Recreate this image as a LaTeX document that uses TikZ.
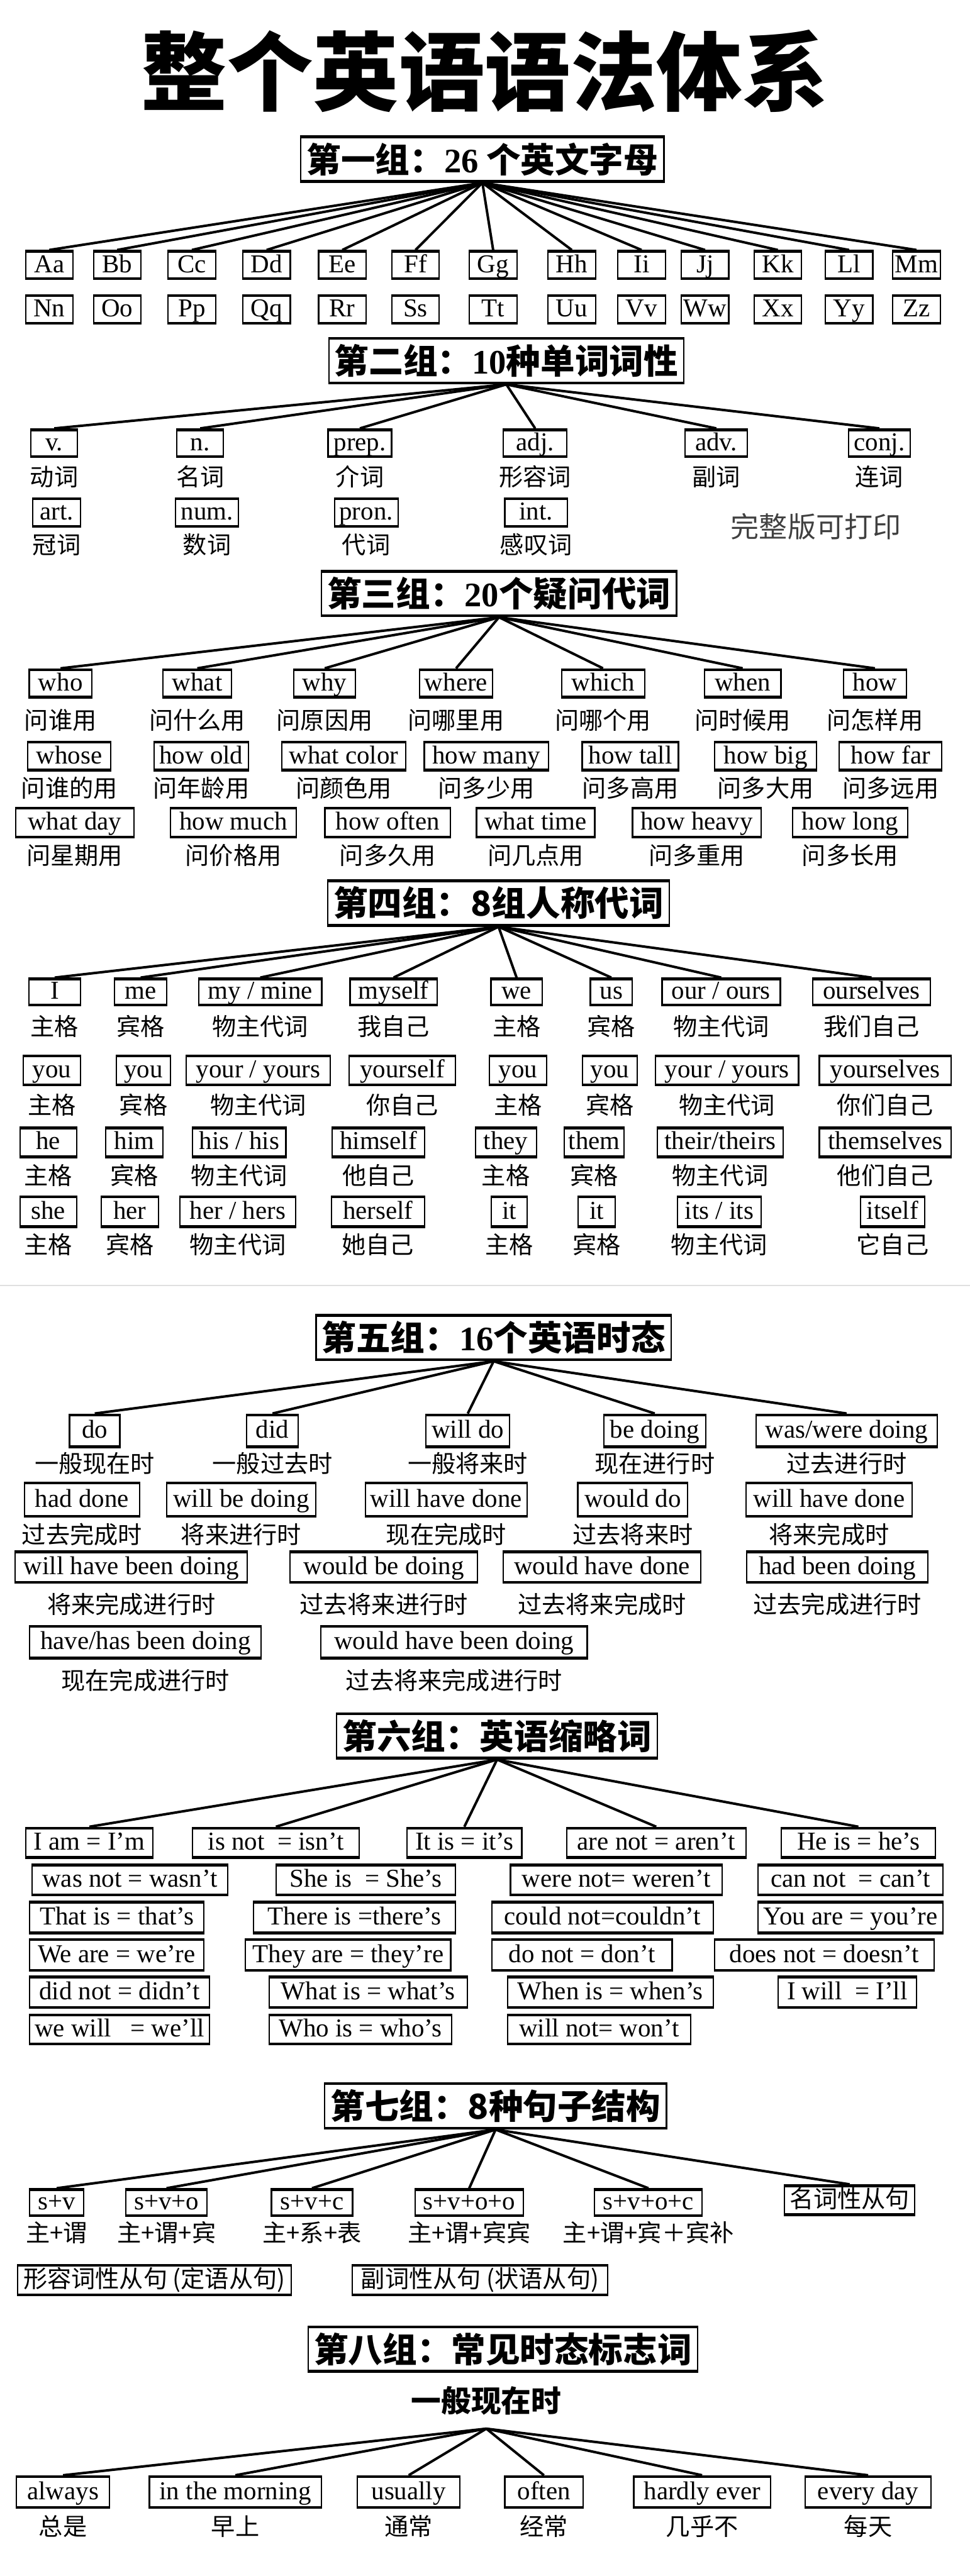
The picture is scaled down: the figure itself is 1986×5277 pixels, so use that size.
\documentclass[tikz,border=0pt]{standalone}
\usepackage{fontspec}
\setmainfont{Liberation Serif}
\newfontfamily\cjk{Noto Sans CJK SC}

\newcommand{\titlefont}{\cjk\bfseries\fontsize{50}{56}\selectfont}
\newcommand{\headfont}{\cjk\bfseries\fontsize{20}{24}\selectfont}
\newcommand{\wordfont}{\rmfamily\fontsize{15}{18}\selectfont}
\newcommand{\cnfont}{\cjk\fontsize{14}{17}\selectfont}

\begin{document}
\begin{tikzpicture}[
  x=0.01cm, y=-0.01cm,
  thickrims/.style={path picture={
    \draw[line width=2.4pt] (path picture bounding box.north west) -- (path picture bounding box.north east)
      (path picture bounding box.south west) -- (path picture bounding box.south east);}},
  headbox/.style={draw, line width=0.8pt, font=\headfont, inner xsep=0.12cm, minimum height=0.94cm, thickrims},
  wordbox/.style={draw, line width=0.8pt, font=\wordfont, inner xsep=0.04cm, inner ysep=0.03cm,
    text height=0.38cm, text depth=0.08cm, minimum height=#1, thickrims},
  wordbox/.default=0.6cm,
  cnlabel/.style={font=\cnfont, inner sep=0pt},
  branch/.style={line width=1.45pt},
]
  \path[use as bounding box, fill=white] (0,0) rectangle (1986,5277);

  \node[font=\titlefont] (title) at (993,146) {整个英语语法体系};

  % group 1: letters
  \node[headbox] (head1) at (988,326) {第一组：{\rmfamily 26} 个英文字母};
  \foreach \px/\txt [count=\i] in {101/Aa,240/Bb,393/Cc,546/Dd,701/Ee,851/Ff,1010/Gg,1171/Hh,1314/Ii,1444/Jj,1593/Kk,1739/Ll,1877/Mm}
    \node[wordbox=0.59cm, minimum width=0.97cm] (alpha-a\i) at (\px,543) {\txt};
  \foreach \px/\txt [count=\i] in {101/Nn,240/Oo,393/Pp,546/Qq,701/Rr,851/Ss,1010/Tt,1171/Uu,1314/Vv,1444/Ww,1593/Xx,1739/Yy,1877/Zz}
    \node[wordbox=0.59cm, minimum width=0.97cm] (alpha-b\i) at (\px,634) {\txt};
  \foreach \i in {1,...,13}
    \draw[branch] (head1.south) -- (alpha-a\i.north);

  % group 2: parts of speech
  \node[headbox] (head2) at (1037,739) {第二组：{\rmfamily 10}种单词词性};
  \foreach \px/\bw/\txt/\lbl [count=\i] in {111/0.95/v./动词, 410/0.95/n./名词, 737/1.30/prep./介词, 1096/1.30/adj./形容词, 1467/1.28/adv./副词, 1801/1.27/conj./连词} {
    \node[wordbox=0.58cm, minimum width=\bw cm] (pos-a\i) at (\px,908) {\txt};
    \node[cnlabel] (pos-a\i-cn) at (\px,977) {\lbl};
  }
  \foreach \px/\bw/\txt/\lbl [count=\i] in {116/0.98/art./冠词, 424/1.29/num./数词, 750/1.30/pron./代词, 1098/1.28/int./感叹词} {
    \node[wordbox=0.59cm, minimum width=\bw cm] (pos-b\i) at (\px,1050) {\txt};
    \node[cnlabel] (pos-b\i-cn) at (\px,1116) {\lbl};
  }
  \node[font=\cjk\fontsize{16.5}{20}\selectfont, text=black!75] (print) at (1671,1079) {完整版可打印};
  \foreach \i in {1,...,6}
    \draw[branch] (head2.south) -- (pos-a\i.north);

  % group 3: question words
  \node[headbox] (head3) at (1022,1216) {第三组：{\rmfamily 20}个疑问代词};
  \foreach \px/\bw/\txt/\lbl [count=\i] in {124/1.28/who/问谁用, 404/1.41/what/问什么用, 665/1.26/why/问原因用, 934/1.49/where/问哪里用, 1235/1.70/which/问哪个用, 1521/1.57/when/问时候用, 1792/1.29/how/问怎样用} {
    \node[wordbox=0.59cm, minimum width=\bw cm] (wh-a\i) at (\px,1400) {\txt};
    \node[cnlabel] (wh-a\i-cn) at (\px,1475) {\lbl};
  }
  \foreach \px/\bw/\txt/\lbl [count=\i] in {142/1.70/whose/问谁的用, 412/1.93/how old/问年龄用, 704/2.54/what color/问颜色用, 996/2.54/how many/问多少用, 1291/1.97/how tall/问多高用, 1568/2.09/how big/问多大用, 1824/2.10/how far/问多远用} {
    \node[wordbox=0.60cm, minimum width=\bw cm] (wh-b\i) at (\px,1549) {\txt};
    \node[cnlabel] (wh-b\i-cn) at (\px,1614) {\lbl};
  }
  \foreach \px/\bw/\txt/\lbl [count=\i] in {153/2.42/what day/问星期用, 478/2.57/how much/问价格用, 794/2.57/how often/问多久用, 1097/2.42/what time/问几点用, 1427/2.63/how heavy/问多重用, 1741/2.36/how long/问多长用} {
    \node[wordbox=0.62cm, minimum width=\bw cm] (wh-c\i) at (\px,1685) {\txt};
    \node[cnlabel] (wh-c\i-cn) at (\px,1752) {\lbl};
  }
  \foreach \i in {1,...,7}
    \draw[branch] (head3.south) -- (wh-a\i.north);

  % group 4: personal pronouns
  \node[headbox] (head4) at (1021,1850) {第四组：8组人称代词};
  \foreach \px/\bw/\txt/\lbl [count=\i] in {112/1.05/I/主格, 288/1.06/me/宾格, 533/2.52/{my / mine}/物主代词, 806/1.78/myself/我自己, 1058/1.05/we/主格, 1252/0.86/us/宾格, 1477/2.42/{our / ours}/物主代词, 1785/2.41/ourselves/我们自己} {
    \node[wordbox=0.56cm, minimum width=\bw cm] (pron-a\i) at (\px,2032) {\txt};
    \node[cnlabel] (pron-a\i-cn) at (\px,2102) {\lbl};
  }
  \foreach \px/\bw/\txt/\lbl [count=\i] in {106/1.17/you/主格, 294/1.11/you/宾格, 529/2.95/{your / yours}/物主代词, 824/2.18/yourself/你自己, 1061/1.18/you/主格, 1249/1.12/you/宾格, 1489/2.93/{your / yours}/物主代词, 1813/2.70/yourselves/你们自己} {
    \node[wordbox=0.62cm, minimum width=\bw cm] (pron-b\i) at (\px,2193) {\txt};
    \node[cnlabel] (pron-b\i-cn) at (\px,2264) {\lbl};
  }
  \foreach \px/\bw/\txt/\lbl [count=\i] in {99/1.16/he/主格, 275/1.18/him/宾格, 490/1.91/{his / his}/物主代词, 775/1.89/himself/他自己, 1036/1.25/they/主格, 1217/1.23/them/宾格, 1475/2.57/{their/theirs}/物主代词, 1813/2.70/themselves/他们自己} {
    \node[wordbox=0.62cm, minimum width=\bw cm] (pron-c\i) at (\px,2340) {\txt};
    \node[cnlabel] (pron-c\i-cn) at (\px,2408) {\lbl};
  }
  \foreach \px/\bw/\txt/\lbl [count=\i] in {99/1.16/she/主格, 266/1.18/her/宾格, 487/2.36/{her / hers}/物主代词, 774/1.91/herself/她自己, 1043/0.74/it/主格, 1222/0.76/it/宾格, 1473/1.71/{its / its}/物主代词, 1828/1.31/itself/它自己} {
    \node[wordbox=0.64cm, minimum width=\bw cm] (pron-d\i) at (\px,2482) {\txt};
    \node[cnlabel] (pron-d\i-cn) at (\px,2550) {\lbl};
  }
  \foreach \i in {1,...,8}
    \draw[branch] (head4.south) -- (pron-a\i.north);
  \draw[black!12, line width=0.6pt] (0,2633) -- (1986,2633);

  % group 5: tenses
  \node[headbox] (head5) at (1011,2740) {第五组：{\rmfamily 16}个英语时态};
  \foreach \px/\bw/\txt/\lbl [count=\i] in {194/1.03/do/一般现在时, 558/1.06/did/一般过去时, 958/1.71/will do/一般将来时, 1341/2.08/be doing/现在进行时, 1734/3.71/{was/were doing}/过去进行时} {
    \node[wordbox=0.68cm, minimum width=\bw cm] (tense-a\i) at (\px,2931) {\txt};
    \node[cnlabel] (tense-a\i-cn) at (\px,2998) {\lbl};
  }
  \foreach \px/\bw/\txt/\lbl [count=\i] in {168/2.35/had done/过去完成时, 494/3.06/will be doing/将来进行时, 914/3.31/will have done/现在完成时, 1296/2.25/would do/过去将来时, 1698/3.40/will have done/将来完成时} {
    \node[wordbox=0.71cm, minimum width=\bw cm] (tense-b\i) at (\px,3072) {\txt};
    \node[cnlabel] (tense-b\i-cn) at (\px,3143) {\lbl};
  }
  \foreach \px/\bw/\txt/\lbl [count=\i] in {269/4.75/will have been doing/将来完成进行时, 786/3.83/would be doing/过去将来进行时, 1233/4.05/would have done/过去将来完成时, 1715/3.71/had been doing/过去完成进行时} {
    \node[wordbox=0.65cm, minimum width=\bw cm] (tense-c\i) at (\px,3210) {\txt};
    \node[cnlabel] (tense-c\i-cn) at (\px,3286) {\lbl};
  }
  \foreach \px/\bw/\txt/\lbl [count=\i] in {298/4.74/{have/has been doing}/现在完成进行时, 930/5.45/would have been doing/过去将来完成进行时} {
    \node[wordbox=0.68cm, minimum width=\bw cm] (tense-d\i) at (\px,3364) {\txt};
    \node[cnlabel] (tense-d\i-cn) at (\px,3442) {\lbl};
  }
  \foreach \i in {1,...,5}
    \draw[branch] (head5.south) -- (tense-a\i.north);

  % group 6: contractions
  \node[headbox] (head6) at (1018,3556) {第六组：英语缩略词};
  \foreach \px/\bw/\txt [count=\i] in {183/2.61/I am = I’m, 565/3.41/is not\ \ = isn't, 951/2.35/It is = it's, 1344/3.67/are not = aren't, 1758/3.15/He is = he's}
    \node[wordbox=0.63cm, minimum width=\bw cm] (short-a\i) at (\px,3775) {\txt};
  \foreach \px/\bw/\txt [count=\i] in {266/4.01/was not = wasn't, 749/3.67/She is\ \ = She's, 1262/4.33/were not= weren't, 1742/3.78/can not\ \ = can't}
    \node[wordbox=0.64cm, minimum width=\bw cm] (short-b\i) at (\px,3851) {\txt};
  \foreach \px/\bw/\txt [count=\i] in {239/3.57/That is = that's, 726/4.14/There is =there's, 1234/4.53/could not=couldn't, 1742/3.78/You are = you're}
    \node[wordbox=0.66cm, minimum width=\bw cm] (short-c\i) at (\px,3928) {\txt};
  \foreach \px/\bw/\txt [count=\i] in {239/3.57/We are = we're, 713/4.20/They are = they're, 1192/3.69/do not = don't, 1688/4.49/does not = doesn't}
    \node[wordbox=0.66cm, minimum width=\bw cm] (short-d\i) at (\px,4005) {\txt};
  \foreach \px/\bw/\txt [count=\i] in {245/3.68/did not = didn't, 754/4.06/What is = what's, 1250/4.21/When is = when's, 1735/2.83/I will\ \ = I'll}
    \node[wordbox=0.65cm, minimum width=\bw cm] (short-e\i) at (\px,4081) {\txt};
  \foreach \px/\bw/\txt [count=\i] in {245/3.68/we will\ \ \ = we'll, 738/3.74/Who is = who's, 1227/3.75/will not= won't}
    \node[wordbox=0.62cm, minimum width=\bw cm] (short-f\i) at (\px,4157) {\txt};
  \foreach \i in {1,...,5}
    \draw[branch] (head6.south) -- (short-a\i.north);

  % group 7: sentence patterns
  \node[headbox] (head7) at (1015,4314) {第七组：8种句子结构};
  \foreach \px/\bw/\txt/\lbl [count=\i] in {116/1.11/s+v/主+谓, 341/1.66/s+v+o/主+谓+宾, 639/1.66/s+v+c/主+系+表, 961/2.22/s+v+o+o/主+谓+宾宾, 1328/2.20/s+v+o+c/主+谓+宾＋宾补} {
    \node[wordbox=0.56cm, minimum width=\bw cm] (sent-a\i) at (\px,4512) {\txt};
    \node[cnlabel] (sent-a\i-cn) at (\px,4573) {\lbl};
  }
  \node[wordbox=0.62cm, font=\cnfont, minimum width=2.67cm] (sent-a6) at (1740,4507) {名词性从句};
  \node[wordbox=0.63cm, font=\cnfont, minimum width=5.60cm] (clause1) at (316,4671) {形容词性从句 (定语从句)};
  \node[wordbox=0.63cm, font=\cnfont, minimum width=5.23cm] (clause2) at (983,4671) {副词性从句 (状语从句)};
  \foreach \i in {1,...,6}
    \draw[branch] (head7.south) -- (sent-a\i.north);

  % group 8: tense markers
  \node[headbox] (head8) at (1030,4812) {第八组：常见时态标志词};
  \node[font=\cjk\bfseries\fontsize{17.5}{21}\selectfont, inner xsep=0pt, inner ysep=0.27cm] (now) at (996,4918) {一般现在时};
  \foreach \px/\bw/\txt/\lbl [count=\i] in {129/1.90/always/总是, 482/3.52/in the morning/早上, 837/2.10/usually/通常, 1114/1.60/often/经常, 1438/2.80/hardly ever/几乎不, 1778/2.57/every day/每天} {
    \node[wordbox=0.66cm, minimum width=\bw cm] (mark-a\i) at (\px,5105) {\txt};
    \node[cnlabel] (mark-a\i-cn) at (\px,5175) {\lbl};
  }
  \foreach \i in {1,...,6}
    \draw[branch] (now.south) -- (mark-a\i.north);
\end{tikzpicture}
\end{document}
